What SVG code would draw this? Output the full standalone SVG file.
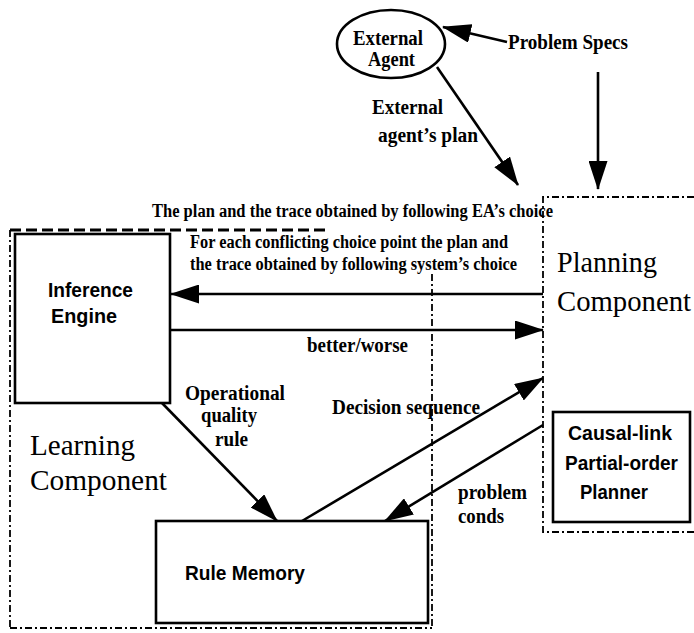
<svg xmlns="http://www.w3.org/2000/svg" width="694" height="633" viewBox="0 0 694 633">
  <style>
    .lbl { font-family: "Liberation Serif", "Times New Roman", serif; font-weight: bold; font-size: 20px; fill: #000; }
    .lbl-long { font-size: 18px; }
    .box-txt { font-family: "Liberation Sans", Arial, sans-serif; font-weight: bold; font-size: 21px; fill: #000; }
    .title { font-family: "Liberation Serif", "Times New Roman", serif; font-size: 29px; fill: #000; }
    .box { fill: #fff; stroke: #000; stroke-width: 2.6; }
    .conn { fill: none; stroke: #000; stroke-width: 2.6; marker-end: url(#head); }
    .region { fill: none; stroke: #000; stroke-width: 1.8; stroke-dasharray: 7 3 2 3; }
    .region-top { fill: none; stroke: #000; stroke-width: 3; stroke-dasharray: 11 5; }
  </style>
  <defs>
    <marker id="head" markerUnits="userSpaceOnUse" markerWidth="29" markerHeight="19" viewBox="0 0 29 19" refX="28" refY="9.5" orient="auto">
      <path d="M0,0 L29,9.5 L0,19 z" fill="#000"/>
    </marker>
  </defs>
  <rect width="694" height="633" fill="#fff"/>

  <!-- Learning component region -->
  <g id="learning-component">
    <line class="region-top" x1="10" y1="230" x2="325" y2="230"/>
    <line class="region" x1="10" y1="230" x2="10" y2="628"/>
    <line class="region" x1="10" y1="628" x2="432" y2="628"/>
    <line class="region" x1="432" y1="274" x2="432" y2="628"/>
    <text class="title" x="30" y="455" textLength="105" lengthAdjust="spacingAndGlyphs">Learning</text>
    <text class="title" x="30" y="490" textLength="137" lengthAdjust="spacingAndGlyphs">Component</text>
  </g>

  <!-- Planning component region -->
  <g id="planning-component">
    <polyline class="region" points="694,197 543,197 543,532 694,532"/>
    <text class="title" x="557" y="272" textLength="100" lengthAdjust="spacingAndGlyphs">Planning</text>
    <text class="title" x="557" y="311" textLength="134" lengthAdjust="spacingAndGlyphs">Component</text>
  </g>

  <!-- External agent -->
  <g id="external-agent">
    <ellipse class="box" cx="391" cy="44" rx="54" ry="34"/>
    <text class="lbl" x="353" y="45" textLength="70" lengthAdjust="spacingAndGlyphs">External</text>
    <text class="lbl" x="368" y="66" textLength="47" lengthAdjust="spacingAndGlyphs">Agent</text>
  </g>

  <g id="problem-specs">
    <text class="lbl" x="508" y="49" textLength="120" lengthAdjust="spacingAndGlyphs">Problem Specs</text>
  </g>

  <!-- Inference engine -->
  <g id="inference-engine">
    <rect class="box" x="15" y="234" width="155" height="169"/>
    <text class="box-txt" x="48" y="297" textLength="85" lengthAdjust="spacingAndGlyphs">Inference</text>
    <text class="box-txt" x="51" y="323" textLength="66" lengthAdjust="spacingAndGlyphs">Engine</text>
  </g>

  <!-- Rule memory -->
  <g id="rule-memory">
    <rect class="box" x="156" y="521" width="272" height="102"/>
    <text class="box-txt" x="185" y="580" textLength="120" lengthAdjust="spacingAndGlyphs">Rule Memory</text>
  </g>

  <!-- Causal-link partial-order planner -->
  <g id="pop-planner">
    <rect class="box" x="553" y="412" width="137" height="110"/>
    <text class="box-txt" x="568" y="440" textLength="104" lengthAdjust="spacingAndGlyphs">Causal-link</text>
    <text class="box-txt" x="565" y="470" textLength="113" lengthAdjust="spacingAndGlyphs">Partial-order</text>
    <text class="box-txt" x="580" y="499" textLength="68" lengthAdjust="spacingAndGlyphs">Planner</text>
  </g>

  <!-- Connectors -->
  <g id="connectors">
    <line class="conn" x1="507" y1="42" x2="443" y2="27"/>
    <line class="conn" x1="598" y1="72" x2="598" y2="189"/>
    <line class="conn" x1="437" y1="67" x2="518" y2="185"/>
    <line class="conn" x1="543" y1="294" x2="171" y2="294"/>
    <line class="conn" x1="170" y1="330" x2="543" y2="330"/>
    <line class="conn" x1="162" y1="403" x2="277" y2="521"/>
    <line class="conn" x1="302" y1="521" x2="543" y2="378"/>
    <line class="conn" x1="543" y1="425" x2="385" y2="521"/>
  </g>

  <!-- Connector labels -->
  <g id="labels">
    <text class="lbl" x="372" y="114" textLength="71" lengthAdjust="spacingAndGlyphs">External</text>
    <text class="lbl" x="378" y="142" textLength="100" lengthAdjust="spacingAndGlyphs">agent’s plan</text>
    <text class="lbl lbl-long" x="152" y="217" textLength="401" lengthAdjust="spacingAndGlyphs">The plan and the trace obtained by following EA’s choice</text>
    <text class="lbl lbl-long" x="190" y="248" textLength="318" lengthAdjust="spacingAndGlyphs">For each conflicting choice point the plan and</text>
    <text class="lbl lbl-long" x="190" y="270" textLength="327" lengthAdjust="spacingAndGlyphs">the trace obtained by following system’s choice</text>
    <text class="lbl" x="307" y="352" textLength="101" lengthAdjust="spacingAndGlyphs">better/worse</text>
    <text class="lbl" x="185" y="400" textLength="100" lengthAdjust="spacingAndGlyphs">Operational</text>
    <text class="lbl" x="201" y="422" textLength="56" lengthAdjust="spacingAndGlyphs">quality</text>
    <text class="lbl" x="215" y="446" textLength="33" lengthAdjust="spacingAndGlyphs">rule</text>
    <text class="lbl" x="332" y="414" textLength="148" lengthAdjust="spacingAndGlyphs">Decision sequence</text>
    <text class="lbl" x="458" y="499" textLength="69" lengthAdjust="spacingAndGlyphs">problem</text>
    <text class="lbl" x="458" y="523" textLength="46" lengthAdjust="spacingAndGlyphs">conds</text>
  </g>
</svg>
